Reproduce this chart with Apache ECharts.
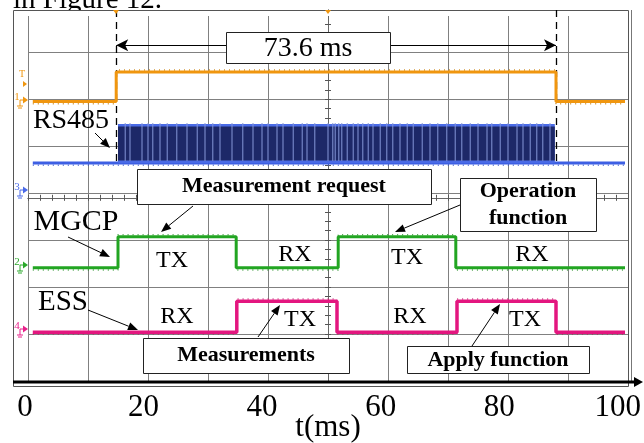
<!DOCTYPE html>
<html><head><meta charset="utf-8">
<script src="https://cdn.jsdelivr.net/npm/echarts@6/dist/echarts.min.js"></script>
<style>html,body{margin:0;padding:0;background:#fff}#c{width:644px;height:443px}</style>
</head><body><div id="c"></div>
<script>
// ---------------- data ----------------
const timeTicks = [0, 20, 40, 60, 80, 100];          // x tick labels (ms)
const traceSpan = [0.8, 99.5];                        // visible part of every trace (ms)
const ch1Levels = [5.95, 6.58];                       // orange trace low/high (div)
const ch1Edges = [14.7, 88.0];                        // orange transitions (ms)
const rsLevels = [4.64, 5.47];                        // RS485 baseline / burst top (div)
const rsWindow = [15.0, 87.8];                        // RS485 burst (ms)
const rsGapTimes = [16.2, 17.0, 19.0, 20.0, 20.8, 22.0, 23.2, 24.8, 26.5, 28.2, 29.5, 30.8, 32.0, 34.0, 35.8,
  37.5, 39.0, 40.0, 41.5, 42.5, 44.2, 45.7, 46.5, 47.8, 50.0, 50.8, 51.2, 51.8, 52.3, 53.2, 54.2, 55.0, 55.8,
  56.7, 57.5, 58.7, 59.8, 60.8, 62.0, 63.2, 64.2, 65.7, 67.0, 68.3, 69.8, 71.2, 72.3, 73.7, 75.0, 76.5, 77.3,
  78.7, 80.0, 81.5, 82.5, 83.7, 84.8, 85.8, 87.0];   // light stripes inside the burst (ms)
const ch2Levels = [2.41, 3.07];                       // MGCP low/high
const ch2Edges = [15.0, 34.7, 51.7, 71.3];
const ch4Levels = [1.04, 1.70];                       // ESS low/high
const ch4Edges = [34.8, 51.5, 71.5, 88.0];
const cursorTimes = [14.7, 88.0];                     // measurement cursors (ms)
const cursorSpanY = [7.9, 4.6];
const spanArrowY = 7.15;
const measureText = '73.6 ms';

// ---------------- helpers ----------------
function steps(levels, edges) {
  const pts = [[traceSpan[0], levels[0]]];
  let s = 0;
  edges.forEach(t => { pts.push([t, levels[s]]); s = 1 - s; pts.push([t, levels[s]]); });
  pts.push([traceSpan[1], levels[s]]);
  return pts;
}
const SERIF = 'Liberation Serif, Times New Roman, serif';
function txt(text, x, y, size, bold, color) {
  return { type: 'text', x: x, y: y, z: 30,
    style: { text: text, fontFamily: SERIF, fontSize: size, fontWeight: bold ? 'bold' : 'normal',
      fill: color || '#000', align: 'center', verticalAlign: 'middle' } };
}
function box(x1, y1, x2, y2) {
  return { type: 'rect', z: 25, shape: { x: x1 + 0.5, y: y1 + 0.5, width: x2 - x1, height: y2 - y1 },
    style: { fill: '#fff', stroke: '#222', lineWidth: 1 } };
}
function arrow(x1, y1, x2, y2) {
  const dx = x2 - x1, dy = y2 - y1, L = Math.hypot(dx, dy), ux = dx / L, uy = dy / L;
  const hl = 10, hw = 4, bx = x2 - ux * hl, by = y2 - uy * hl;
  return [
    { type: 'line', z: 30, shape: { x1: x1, y1: y1, x2: bx, y2: by }, style: { stroke: '#000', lineWidth: 1 } },
    { type: 'polygon', z: 30, shape: { points: [[x2, y2], [bx - uy * hw, by + ux * hw], [bx + uy * hw, by - ux * hw]] },
      style: { fill: '#000' } }
  ];
}
function chMarker(label, y, color) {
  return [
    { type: 'text', x: 17, y: y - 3, z: 30, style: { text: label, fontFamily: SERIF, fontSize: 11, fill: color, align: 'center', verticalAlign: 'middle' } },
    { type: 'polyline', z: 30, shape: { points: [[20, y + 6], [20, y], [23, y]] }, style: { stroke: color, lineWidth: 1, fill: null } },
    { type: 'line', z: 30, shape: { x1: 17, y1: y + 6, x2: 23, y2: y + 6 }, style: { stroke: color, lineWidth: 1 } },
    { type: 'line', z: 30, shape: { x1: 18, y1: y + 8, x2: 22, y2: y + 8 }, style: { stroke: color, lineWidth: 1 } },
    { type: 'polygon', z: 30, shape: { points: [[23, y - 3.5], [28, y], [23, y + 3.5]] }, style: { fill: color } }
  ];
}

const chart = echarts.init(document.getElementById('c'), null, { renderer: 'canvas' });
const GRID = '#808080';
const centerTick = (inside) => ({
  gridIndex: 0, type: 'value', min: 0, max: 100, interval: 2, position: 'bottom', offset: -187.8,
  axisLine: { show: true, lineStyle: { color: '#666', width: 1 } },
  axisTick: { show: true, inside: inside, length: 3, lineStyle: { color: '#555' } },
  axisLabel: { show: false }, splitLine: { show: false }
});
const centerTickY = (inside) => ({
  gridIndex: 0, type: 'value', min: 0, max: 7.9, interval: 0.2, position: 'left', offset: -300,
  axisLine: { show: true, lineStyle: { color: '#666', width: 1 } },
  axisTick: { show: true, inside: inside, length: 3, lineStyle: { color: '#555' } },
  axisLabel: { show: false }, splitLine: { show: false }
});

const graphics = [];
// top caption (cropped)
graphics.push({ type: 'text', x: 13, y: 15, z: 1, style: { text: 'in Figure 12.', fontFamily: SERIF, fontSize: 29, fill: '#000', align: 'left', verticalAlign: 'bottom' } });
graphics.push({ type: 'rect', z: 2, shape: { x: 13, y: 10, width: 616, height: 6 }, style: { fill: '#fff' } });
// frame
graphics.push({ type: 'rect', z: 3, shape: { x: 13.5, y: 10.5, width: 615, height: 376 }, style: { fill: null, stroke: '#555', lineWidth: 1 } });
graphics.push({ type: 'line', z: 3, shape: { x1: 631.5, y1: 10, x2: 631.5, y2: 382 }, style: { stroke: '#777', lineWidth: 1 } });
// x axis arrow line
graphics.push({ type: 'line', z: 40, shape: { x1: 13, y1: 382, x2: 636, y2: 382 }, style: { stroke: '#000', lineWidth: 3 } });
graphics.push({ type: 'polygon', z: 40, shape: { points: [[634, 377], [643, 382], [634, 387]] }, style: { fill: '#000' } });
// top markers
graphics.push({ type: 'polygon', z: 30, shape: { points: [[113, 10], [119, 10], [116, 14]] }, style: { fill: '#f0960f' } });
graphics.push({ type: 'polygon', z: 30, shape: { points: [[325, 10], [331, 10], [328, 14]] }, style: { fill: '#f0960f' } });
// channel markers
graphics.push({ type: 'text', x: 22, y: 74, z: 30, style: { text: 'T', fontFamily: SERIF, fontSize: 10, fill: '#f0960f', align: 'center', verticalAlign: 'middle' } });
graphics.push({ type: 'polygon', z: 30, shape: { points: [[23, 81], [27, 84], [23, 87]] }, style: { fill: '#f0960f' } });
graphics.push(...chMarker('1', 100, '#f0960f'));
graphics.push(...chMarker('3', 190, '#4a6ae8'));
graphics.push(...chMarker('2', 265, '#2aa82a'));
graphics.push(...chMarker('4', 329, '#e8208a'));
// annotation boxes & texts
graphics.push(box(226, 32, 390, 63), txt(measureText, 308, 49, 28, false));
graphics.push(txt('RS485', 71, 121, 28, false));
graphics.push(...arrow(95, 133, 110, 148));
graphics.push(box(137, 169, 431, 204), txt('Measurement request', 284, 186, 22, true));
graphics.push(...arrow(193, 206, 161, 232));
graphics.push(txt('MGCP', 76, 222, 30, false));
graphics.push(...arrow(68, 237, 110, 257));
graphics.push(txt('ESS', 63, 302, 29, false));
graphics.push(...arrow(88, 310, 138, 330));
graphics.push(box(460, 178, 596, 231), txt('Operation', 528, 191, 22, true), txt('function', 528, 218, 22, true));
graphics.push(...arrow(460, 205, 395, 232));
graphics.push(box(143, 338, 349, 373), txt('Measurements', 246, 355, 22, true));
graphics.push(...arrow(258, 337, 280, 305));
graphics.push(box(407, 346, 589, 373), txt('Apply function', 498, 360, 22, true));
graphics.push(...arrow(472, 346, 500, 304));
[['TX', 172, 261], ['RX', 177, 317], ['RX', 295, 255], ['TX', 300, 320], ['TX', 407, 258], ['RX', 410, 317], ['RX', 532, 255], ['TX', 525, 320]]
  .forEach(a => graphics.push(txt(a[0], a[1], a[2], 24, false)));
graphics.push(txt('t(ms)', 328, 428, 31, false));

const lineS = (data, color, w, extra) => Object.assign({
  type: 'line', xAxisIndex: 0, yAxisIndex: 0, data: data, showSymbol: false, symbol: 'none',
  lineStyle: { color: color, width: w }, z: 5, animation: false
}, extra || {});
// noise texture: thin dotted copy just outside each level
const noiseS = (levels, edges, color) => lineS(steps([levels[0] - 0.045, levels[1] + 0.045], edges), color, 1.5,
  { z: 4, lineStyle: { color: color, width: 1.5, type: [1, 4], opacity: 0.8 } });

chart.setOption({
  animation: false,
  grid: [
    { left: 28, right: 16, top: 10, bottom: 62 },
    { left: 25, right: 25, top: 10, bottom: 62 }
  ],
  xAxis: [
    { gridIndex: 0, type: 'value', min: 0, max: 100, interval: 10,
      axisLine: { show: false }, axisTick: { show: false }, axisLabel: { show: false },
      splitLine: { show: true, lineStyle: { color: GRID, width: 1 } } },
    centerTick(true), centerTick(false),
    { gridIndex: 1, type: 'value', min: 0, max: 100, interval: 20,
      axisLine: { show: false }, axisTick: { show: false }, splitLine: { show: false },
      axisLabel: { show: true, margin: 11, color: '#000', fontFamily: SERIF, fontSize: 31,
        formatter: v => timeTicks.indexOf(v) >= 0 ? String(v) : '' } }
  ],
  yAxis: [
    { gridIndex: 0, type: 'value', min: 0, max: 7.9, interval: 1,
      axisLine: { show: false }, axisTick: { show: false }, axisLabel: { show: false },
      splitLine: { show: true, lineStyle: { color: GRID, width: 1 } } },
    centerTickY(true), centerTickY(false),
    { gridIndex: 1, type: 'value', min: 0, max: 7.9, show: false }
  ],
  series: [
    noiseS(ch1Levels, ch1Edges, '#c77a05'),
    lineS(steps(ch1Levels, ch1Edges), '#f0960f', 3),
    noiseS([rsLevels[0], rsLevels[0]], [], '#2d4bc9'),
    lineS([[traceSpan[0], rsLevels[0]], [traceSpan[1], rsLevels[0]]], '#3d5fe3', 3),
    {
      type: 'custom', xAxisIndex: 0, yAxisIndex: 0, z: 6, animation: false,
      data: [rsWindow],
      renderItem: (params, api) => {
        const p0 = api.coord([api.value(0), rsLevels[1]]);
        const p1 = api.coord([api.value(1), rsLevels[0]]);
        return { type: 'group', children: [
          { type: 'rect', shape: { x: p0[0], y: p0[1], width: p1[0] - p0[0], height: p1[1] - p0[1] }, style: { fill: '#4a6be6' } },
          { type: 'rect', shape: { x: p0[0], y: p0[1] + 2.5, width: p1[0] - p0[0], height: p1[1] - p0[1] - 5 }, style: { fill: '#1d2868' } }
        ] };
      }
    },
    {
      type: 'custom', xAxisIndex: 0, yAxisIndex: 0, z: 7, animation: false,
      data: rsGapTimes.map(t => [t]),
      renderItem: (params, api) => {
        const p0 = api.coord([api.value(0), rsLevels[1]]);
        const p1 = api.coord([api.value(0), rsLevels[0]]);
        return { type: 'rect', shape: { x: p0[0] - 0.5, y: p0[1] - 1, width: 1, height: p1[1] - p0[1] - 1 }, style: { fill: '#8596d8' } };
      }
    },
    noiseS(ch2Levels, ch2Edges, '#1b8a1b'),
    lineS(steps(ch2Levels, ch2Edges), '#22a522', 3),
    noiseS(ch4Levels, ch4Edges, '#c0106a'),
    lineS(steps(ch4Levels, ch4Edges), '#e3167f', 3.5, {
      markLine: {
        silent: true, symbol: ['none', 'none'], animation: false, label: { show: false },
        lineStyle: { color: '#000', type: [7, 5], width: 1.3 },
        data: cursorTimes.map(t => [{ coord: [t, cursorSpanY[0]] }, { coord: [t, cursorSpanY[1]] }])
      }
    }),
    lineS([], '#000', 1, {
      markLine: {
        silent: true, symbol: ['arrow', 'arrow'], symbolSize: [9, 12], animation: false, label: { show: false },
        lineStyle: { color: '#000', type: 'solid', width: 1 },
        data: [[{ coord: [cursorTimes[0], spanArrowY] }, { coord: [cursorTimes[1], spanArrowY] }]]
      }
    })
  ],
  graphic: graphics
});
</script></body></html>
